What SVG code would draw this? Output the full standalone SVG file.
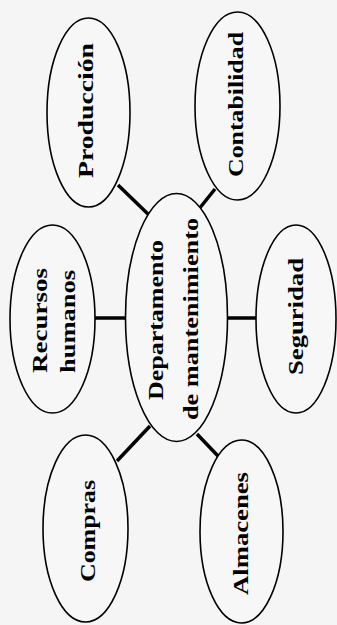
<svg xmlns="http://www.w3.org/2000/svg" width="337" height="625" viewBox="0 0 337 625">
<style>
.bg{fill:#f5f5f5}
.node ellipse{fill:#f7f7f7;stroke:#000;stroke-width:1.6}
.node text{font-family:"Liberation Serif","Times New Roman",serif;font-weight:bold;font-size:20px;fill:#000;text-anchor:middle}
.conn line{stroke:#000;stroke-width:3.5;stroke-linecap:butt}
</style>
<rect class="bg" x="0" y="0" width="337" height="625"/>
<g id="connectors" class="conn">
<line x1="118" y1="185" x2="149" y2="215"/>
<line x1="215" y1="189" x2="199" y2="209"/>
<line x1="94" y1="318" x2="126" y2="318"/>
<line x1="227" y1="318" x2="257" y2="318"/>
<line x1="150" y1="426" x2="117" y2="461"/>
<line x1="197" y1="434" x2="218" y2="456"/>
</g>
<g id="produccion" class="node">
<ellipse cx="88.5" cy="112.5" rx="41.5" ry="94.5"/>
<text transform="translate(93,110.5) rotate(-90)" textLength="135" lengthAdjust="spacingAndGlyphs">Producción</text>
</g>
<g id="contabilidad" class="node">
<ellipse cx="237.5" cy="106" rx="42.5" ry="94"/>
<text transform="translate(243,104.5) rotate(-90)" textLength="145" lengthAdjust="spacingAndGlyphs">Contabilidad</text>
</g>
<g id="recursos" class="node">
<ellipse cx="52.5" cy="319" rx="42.5" ry="94"/>
<text transform="translate(47,320.5) rotate(-90)" textLength="105" lengthAdjust="spacingAndGlyphs">Recursos</text>
<text transform="translate(75,321.5) rotate(-90)" textLength="103" lengthAdjust="spacingAndGlyphs">humanos</text>
</g>
<g id="departamento" class="node">
<ellipse cx="176.5" cy="317.5" rx="51" ry="124"/>
<text transform="translate(163,320) rotate(-90)" textLength="160" lengthAdjust="spacingAndGlyphs">Departamento</text>
<text transform="translate(198,319) rotate(-90)" textLength="202" lengthAdjust="spacingAndGlyphs">de mantenimiento</text>
</g>
<g id="seguridad" class="node">
<ellipse cx="296" cy="319" rx="40" ry="94"/>
<text transform="translate(303,316.5) rotate(-90)" textLength="117" lengthAdjust="spacingAndGlyphs">Seguridad</text>
</g>
<g id="compras" class="node">
<ellipse cx="85.5" cy="528.5" rx="42.5" ry="93.5"/>
<text transform="translate(95,531) rotate(-90)" textLength="102" lengthAdjust="spacingAndGlyphs">Compras</text>
</g>
<g id="almacenes" class="node">
<ellipse cx="241.5" cy="531.5" rx="41.5" ry="91.5"/>
<text transform="translate(248,533.5) rotate(-90)" textLength="123" lengthAdjust="spacingAndGlyphs">Almacenes</text>
</g>
</svg>
